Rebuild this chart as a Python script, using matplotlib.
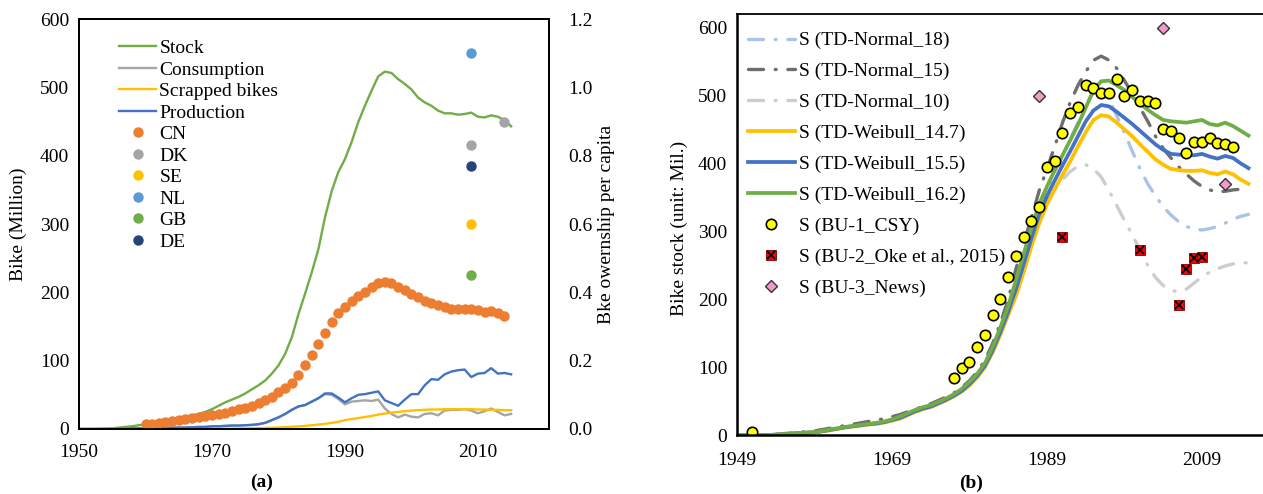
import numpy as np
import matplotlib
matplotlib.use('Agg')
import matplotlib.pyplot as plt
from matplotlib.ticker import FormatStrFormatter

plt.rcParams['font.family'] = ['Liberation Serif', 'DejaVu Serif']
plt.rcParams['font.size'] = 14

# ---------------- panel (a) data ----------------
years_a = np.arange(1950, 2016)
stock = [0, 0, 0, 0.3, 0.6, 1, 2, 3, 4, 5.5,
         7, 9, 11, 13, 14.5, 16, 18, 20, 22, 25,
         29, 34, 39, 43, 47, 52, 58, 64, 71, 81,
         93, 110, 134, 168, 198, 229, 263, 310, 348, 376,
         395, 420, 449, 473, 495, 516, 523, 521, 512, 505,
         497, 485, 478, 473, 466, 462, 462, 460, 461, 463,
         457, 456, 459, 457, 452, 443]
production = [0, 0, 0, 0, 0, 0, 0.5, 0.5, 1, 1,
              1, 1, 1.5, 1.5, 2, 2, 2, 2.5, 3, 3,
              4, 4, 4.5, 5, 5, 5.5, 6, 7, 9, 13,
              17, 22, 28, 33, 35, 40, 45, 52, 52, 46,
              39, 45, 50, 51, 53, 55, 42, 38, 34, 43,
              51, 51, 64, 73, 72, 80, 84, 86, 87, 76,
              81, 82, 89, 81, 82, 80]
consumption = [0, 0, 0, 0, 0, 0, 0.5, 0.5, 1, 1,
               1, 1, 1.5, 1.5, 2, 2, 2, 2.5, 3, 3,
               4, 4, 4.5, 5, 5, 5.5, 6, 7, 9, 13,
               17, 22, 28, 33, 35, 40, 45, 51, 50, 44,
               36, 40, 41, 42, 41, 43, 30, 22, 17, 21,
               18, 17, 22, 23, 20, 27, 28, 28, 29, 27,
               23, 26, 30, 25, 20, 22]
scrapped = [0, 0, 0, 0, 0, 0, 0, 0, 0, 0,
            0, 0, 0, 0, 0, 0, 0, 0, 0, 0,
            0.2, 0.3, 0.4, 0.5, 0.6, 0.8, 1, 1.2, 1.5, 1.8,
            2.2, 2.7, 3.2, 3.8, 4.5, 5.5, 6.5, 7.5, 9, 10.5,
            13, 14.5, 16, 17.5, 19, 21, 22.5, 24, 25, 26,
            27, 27.5, 28, 28.5, 28.5, 29, 29, 29, 29, 29,
            28.5, 28.5, 28, 28, 27.5, 27.5]

years_cn = np.arange(1960, 2015)
cn = [0.014, 0.016, 0.018, 0.020, 0.024, 0.026, 0.030, 0.032, 0.034, 0.038,
      0.040, 0.044, 0.048, 0.052, 0.058, 0.062, 0.068, 0.076, 0.084, 0.094,
      0.108, 0.120, 0.136, 0.158, 0.186, 0.216, 0.250, 0.282, 0.314, 0.340,
      0.356, 0.374, 0.388, 0.402, 0.416, 0.426, 0.430, 0.426, 0.416, 0.406,
      0.396, 0.386, 0.376, 0.368, 0.362, 0.356, 0.352, 0.350, 0.350, 0.350,
      0.348, 0.342, 0.344, 0.340, 0.332]

dk_years = [2009, 2014]
dk = [0.83, 0.90]
se = 0.60
nl = 1.10
gb = 0.45
de = 0.77
country_year = 2009

# ---------------- panel (b) data ----------------
years_b = np.arange(1949, 2016)
normal_18 = [0, 0, 0, 0, 0, 0.5, 1, 2, 3, 3.5,
             4, 6, 8, 10, 12, 13.5, 15, 16.5, 18, 20,
             23, 27, 32, 37, 41, 44, 49, 54, 60, 68,
             77, 89, 104, 128, 156, 188,
             225, 262, 300, 335, 362, 388, 412, 436, 460, 484,
             505, 510, 495, 470, 445, 418, 392, 370, 352, 336,
             324, 314, 307, 303, 302, 304, 307, 312, 318, 322,
             325]
normal_15 = [0, 0, 0, 0, 0.5, 1, 2, 3, 4, 5,
             6, 8, 10, 12, 14, 16, 18, 20, 22, 24,
             27, 30, 34, 38, 42, 46, 51, 56, 62, 70,
             80, 93, 110, 135, 165, 200,
             245, 283, 320, 360, 392, 425, 460, 490, 515, 535,
             552, 558, 552, 540, 522, 502, 482, 462, 440, 422,
             408, 395, 384, 374, 366, 361, 358, 359, 361, 362,
             360]
normal_10 = [0, 0, 0, 0, 0, 0.5, 1, 2, 3, 3.5,
             4, 5.5, 7, 9, 11, 12.5, 14, 15.5, 17, 19,
             22, 25, 29, 34, 38, 41, 46, 51, 57, 64,
             73, 85, 100, 122, 148, 178,
             210, 245, 282, 318, 345, 362, 376, 388, 396, 398,
             392, 380, 360, 338, 316, 295, 272, 250, 232, 220,
             213, 211, 215, 224, 233, 240, 245, 249, 252, 253,
             254]
weibull_147 = [0, 0, 0, 0, 0, 0.5, 1, 2, 3, 3.5,
               4, 5.5, 7, 9, 11, 12.5, 14, 15.5, 16.5, 18.5,
               21, 24, 29, 34, 38, 41, 46, 51, 57, 64,
               73, 85, 100, 122, 148, 177,
               205, 240, 278, 312, 340, 362, 383, 403, 425, 446,
               464, 471, 469, 460, 450, 440, 428, 417, 406, 398,
               392, 390, 389, 389, 390, 386, 384, 388, 384, 376,
               370]
weibull_155 = [0, 0, 0, 0, 0, 0.5, 1, 2, 3, 3.5,
               4, 5.5, 7.5, 9.5, 11.5, 13, 14.5, 16, 17, 19,
               22, 25, 30, 35, 39, 42, 47, 52, 58, 65,
               75, 87, 102, 125, 152, 182,
               215, 252, 290, 325, 352, 375, 397, 418, 440, 462,
               478, 486, 484, 476, 467, 458, 448, 438, 428, 420,
               414, 413, 412, 412, 414, 410, 407, 411, 408, 400,
               393]
weibull_162 = [0, 0, 0, 0, 0, 0.5, 1, 2, 3, 3.5,
               4, 6, 8, 10, 12, 13.5, 15, 16.5, 18, 20,
               23, 27, 32, 37, 41, 44, 49, 54, 60, 68,
               78, 90, 106, 130, 159, 190,
               228, 267, 306, 340, 366, 390, 412, 434, 457, 482,
               508, 521, 522, 515, 508, 498, 488, 479, 471, 464,
               462, 461, 460, 462, 464, 458, 456, 460, 455, 448,
               441]

csy_years = [1951] + list(range(1977, 2014))
csy = [5,
       84, 99, 107, 129, 147, 177, 201, 233, 263, 292,
       315, 336, 395, 404, 445, 474, 483, 516, 511, 504,
       503, 524, 500, 508, 492, 492, 489, 450, 447, 438,
       416, 432, 432, 438, 430, 429, 424]
oke_years = [1991, 2001, 2006, 2007, 2008, 2009]
oke = [291, 272, 191, 245, 260, 262]
news_years = [1988, 2004, 2012]
news = [500, 600, 370]

# colours
c_green = '#70AD47'
c_gray = '#A5A5A5'
c_yellow = '#FFC000'
c_blue = '#4472C4'
c_orange = '#ED7D31'
c_lblue = '#5B9BD5'
c_dblue = '#264478'

fig = plt.figure(figsize=(12.63, 4.94), dpi=100)

# ================= panel (a) =================
ax = fig.add_axes([0.0626, 0.1316, 0.3721, 0.8299])
ax2 = ax.twinx()

l_stock, = ax.plot(years_a, stock, color=c_green, lw=1.7, label='Stock')
l_cons, = ax.plot(years_a, consumption, color=c_gray, lw=1.7, label='Consumption')
l_scr, = ax.plot(years_a, scrapped, color=c_yellow, lw=1.7, label='Scrapped bikes')
l_prod, = ax.plot(years_a, production, color=c_blue, lw=1.7, label='Production')

ms = 7.5
p_cn, = ax2.plot(years_cn, cn, 'o', color=c_orange, ms=ms, mec='none', label='CN')
p_dk, = ax2.plot(dk_years, dk, 'o', color=c_gray, ms=ms, mec='none', label='DK')
p_se, = ax2.plot([country_year], [se], 'o', color=c_yellow, ms=ms, mec='none', label='SE')
p_nl, = ax2.plot([country_year], [nl], 'o', color=c_lblue, ms=ms, mec='none', label='NL')
p_gb, = ax2.plot([country_year], [gb], 'o', color=c_green, ms=ms, mec='none', label='GB')
p_de, = ax2.plot([country_year], [de], 'o', color=c_dblue, ms=ms, mec='none', label='DE')

ax.set_xlim(1950, 2020.7)
ax.set_ylim(0, 600)
ax2.set_ylim(0, 1.2)
ax.set_xticks([1950, 1970, 1990, 2010])
ax.set_yticks(np.arange(0, 601, 100))
ax2.set_yticks(np.arange(0, 1.21, 0.2))
ax2.yaxis.set_major_formatter(FormatStrFormatter('%.1f'))
ax.tick_params(axis='both', length=0, labelsize=14)
ax.tick_params(axis='x', pad=11)
ax.tick_params(axis='y', pad=7)
ax2.tick_params(axis='y', length=0, labelsize=14, pad=14)
for sp in ax.spines.values():
    sp.set_linewidth(1.3)
for sp in ax2.spines.values():
    sp.set_linewidth(1.3)

ax.set_ylabel('Bike (Million)', fontsize=14)
ax.yaxis.set_label_coords(-0.11, 0.5)
ax2.set_ylabel('Bke owernship per capita', fontsize=14)
ax2.yaxis.set_label_coords(1.104, 0.5)

handles_a = [l_stock, l_cons, l_scr, l_prod, p_cn, p_dk, p_se, p_nl, p_gb, p_de]
ax2.legend(handles=handles_a, loc='upper left', bbox_to_anchor=(0.086, 0.95),
           frameon=False, fontsize=14, handlelength=1.9, handletextpad=0.15,
           labelspacing=0.2, borderpad=0, borderaxespad=0)

fig.text(0.207, 0.024, '(a)', ha='center', va='center', fontsize=14, fontweight='bold')

# ================= panel (b) =================
bx = fig.add_axes([0.5835, 0.1194, 0.4357, 0.8522])
dash_dot = (0, (4.5, 3.5, 0.3, 3.5))
lw_n = 2.4
bx.plot(years_b, normal_18, color='#A9C3E9', lw=lw_n, ls=dash_dot, dash_capstyle='round',
        label='S (TD-Normal_18)')
bx.plot(years_b, normal_15, color='#6E6E6E', lw=lw_n, ls=dash_dot, dash_capstyle='round',
        label='S (TD-Normal_15)')
bx.plot(years_b, normal_10, color='#CDCDCD', lw=lw_n, ls=dash_dot, dash_capstyle='round',
        label='S (TD-Normal_10)')
bx.plot(years_b, weibull_147, color=c_yellow, lw=2.7, label='S (TD-Weibull_14.7)')
bx.plot(years_b, weibull_155, color=c_blue, lw=2.7, label='S (TD-Weibull_15.5)')
bx.plot(years_b, weibull_162, color=c_green, lw=2.7, label='S (TD-Weibull_16.2)')

bx.plot(csy_years, csy, 'o', mfc='#FFFF00', mec='black', mew=1.2, ms=7.5, ls='none',
        label='S (BU-1_CSY)')
sq, = bx.plot(oke_years, oke, 's', mfc='#FF0000', mec='#7F0000', mew=0.6, ms=7, ls='none')
xm, = bx.plot(oke_years, oke, 'x', color='black', mew=1.3, ms=6, ls='none')
dm, = bx.plot(news_years, news, 'D', mfc='#F49AC8', mec='#333333', mew=1, ms=6, ls='none',
              label='S (BU-3_News)')

bx.set_xlim(1949, 2020)
bx.set_ylim(0, 620)
bx.set_xticks([1949, 1969, 1989, 2009])
bx.set_yticks(np.arange(0, 601, 100))
bx.tick_params(axis='both', length=0, labelsize=14)
bx.tick_params(axis='x', pad=12)
bx.tick_params(axis='y', pad=7)
bx.spines['right'].set_visible(False)
bx.spines['left'].set_linewidth(1.8)
bx.spines['top'].set_linewidth(1.3)
bx.spines['bottom'].set_linewidth(1.8)
bx.set_ylabel('Bike stock (unit: Mil.)', fontsize=14)
bx.yaxis.set_label_coords(-0.089, 0.49)

hb, lb = bx.get_legend_handles_labels()
hb.insert(7, (sq, xm))
lb.insert(7, 'S (BU-2_Oke et al., 2015)')
bx.legend(hb, lb, loc='upper left', bbox_to_anchor=(0.02, 0.958), frameon=False,
          fontsize=14, handlelength=2.4, handletextpad=0.25, labelspacing=0.68,
          borderpad=0, borderaxespad=0)

fig.text(0.769, 0.022, '(b)', ha='center', va='center', fontsize=14, fontweight='bold')

fig.savefig('out.png', dpi=100)
